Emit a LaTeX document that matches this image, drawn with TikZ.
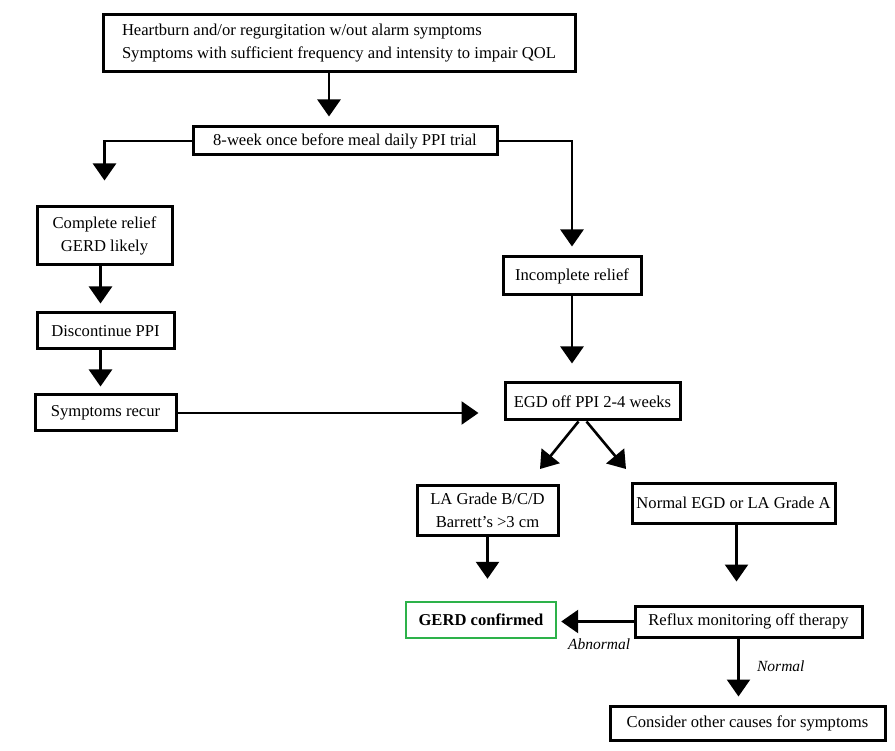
\documentclass[tikz,border=0pt]{standalone}
\usepackage{fontspec}
\setmainfont{Liberation Serif}
\usetikzlibrary{arrows.meta,positioning}
\definecolor{ink}{HTML}{000000}
\definecolor{okcol}{HTML}{2DB24A}

\begin{document}
\begin{tikzpicture}[
  x=1pt, y=-1pt, line join=miter,
  font=\fontsize{16.6}{23}\selectfont,
  box/.style={draw=ink, line width=3pt, inner sep=0pt, align=center, text=ink},
  flow/.style={draw=ink, line width=2.6pt, -{Triangle[length=17pt,width=23pt]}},
  lbl/.style={font=\fontsize{15.5}{18}\selectfont\itshape, text=ink}]

\useasboundingbox (0,0) rectangle (895,751);

% ---- nodes --------------------------------------------------------------
\node[box, minimum width=472pt, minimum height=57pt, align=left] (sym) at (339,43.5)
  {Heartburn and/or regurgitation w/out alarm symptoms\\
   Symptoms with sufficient frequency and intensity to impair QOL};
\node[box, minimum width=304pt, minimum height=28pt] (ppi) at (345,141)
  {8-week once before meal daily PPI trial};

\node[box, minimum width=135pt, minimum height=58pt] (relief) at (104.5,236)
  {Complete relief\\GERD likely};
\node[box, minimum width=137pt, minimum height=36pt] (stop) at (105.5,331)
  {Discontinue PPI};
\node[box, minimum width=141pt, minimum height=36pt] (recur) at (105.5,413)
  {Symptoms recur};

\node[box, minimum width=138pt, minimum height=38pt] (partial) at (572,276)
  {Incomplete relief};
\node[box, minimum width=175pt, minimum height=37pt] (egd) at (592.5,401.5)
  {EGD off PPI 2-4 weeks};

\node[box, minimum width=141pt, minimum height=50pt] (grade) at (487.5,510)
  {LA Grade B/C/D\\Barrett's >3 cm};
\node[box, minimum width=203pt, minimum height=40pt] (normal) at (733.5,503)
  {Normal EGD or LA Grade A};

\node[box, draw=okcol, line width=2.4pt, minimum width=150pt, minimum height=36pt,
  font=\fontsize{16.6}{23}\selectfont\bfseries] (gerd) at (481,620) {GERD confirmed};
\node[box, minimum width=227pt, minimum height=31pt] (reflux) at (748.5,621.5)
  {Reflux monitoring off therapy};
\node[box, minimum width=275pt, minimum height=34pt] (other) at (747.5,723)
  {Consider other causes for symptoms};

% ---- free ends of the split ---------------------------------------------
\coordinate (tipl) at (540,469);
\coordinate (tipr) at (626,469);

% ---- connectors -----------------------------------------------------------
\draw[flow, shorten >=9pt] ([xshift=-10pt]sym.south) -- ([xshift=-16pt]ppi.north);
\draw[flow, shorten >=25pt] (ppi.west) -| (relief.north);
\draw[flow, shorten >=9pt] (ppi.east) -| (partial.north);

\draw[flow, shorten >=8pt] ([xshift=-4pt]relief.south) -- ([xshift=-5pt]stop.north);
\draw[flow, shorten >=7pt] ([xshift=-5pt]stop.south) -- ([xshift=-5pt]recur.north);
\draw[flow, shorten >=25pt] (recur.east) -- (egd.west |- recur.east);

\draw[flow, shorten >=18pt] (partial.south) -- (partial.south |- egd.north);
\draw[flow] ([xshift=-14pt]egd.south) -- (tipl);
\draw[flow] ([xshift=-6pt]egd.south) -- (tipr);

\draw[flow, shorten >=22pt] (grade.south) -- (grade.south |- gerd.north);
\draw[flow, shorten >=23pt] ([xshift=3pt]normal.south) -- ([xshift=3pt]normal.south |- reflux.north);

\draw[flow, shorten >=4pt] (reflux.west) -- (gerd.east |- reflux.west)
  node[lbl, pos=0.45, below=13pt] {Abnormal};
\draw[flow, shorten >=8pt] ([xshift=-10pt]reflux.south) -- ([xshift=-10pt]reflux.south |- other.north)
  node[lbl, pos=0.42, right=14pt] {Normal};

\end{tikzpicture}
\end{document}
